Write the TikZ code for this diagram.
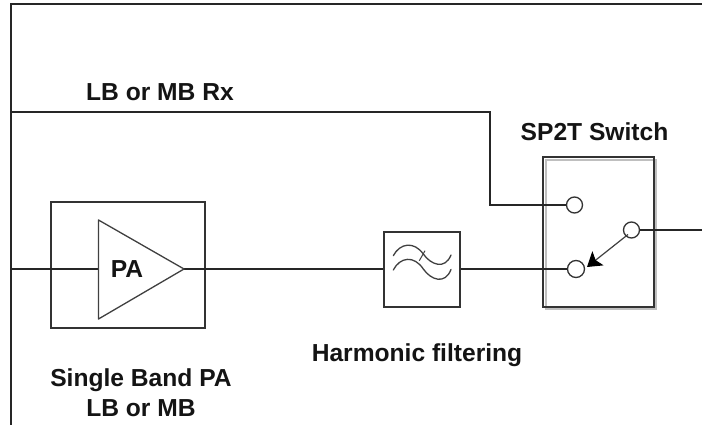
\documentclass[tikz,border=0pt]{standalone}
\usepackage{fontspec}
\setmainfont{Liberation Sans}
\usetikzlibrary{arrows.meta,calc}
\tikzset{
  wire/.style={draw=black!85,line width=1.4pt},
  boxn/.style={draw=black!80,line width=1.2pt,inner sep=0pt,minimum width=#1},
  port/.style={circle,draw=black!80,line width=1.3pt,fill=white,inner sep=0pt,minimum size=16pt},
  lbl/.style={font=\bfseries\fontsize{24.6pt}{30pt}\selectfont,text=black!92,inner sep=0pt,align=center},
}
\begin{document}
\begin{tikzpicture}[x=1pt,y=-1pt]
\useasboundingbox (0,0) rectangle (702,425);
\fill[white] (0,0) rectangle (702,425);
% outer frame and coordinates
\coordinate (tr) at (702,4);
\coordinate (tl) at (11,4);
\coordinate (bl) at (11,425);
\coordinate (rxl) at (11,112);
\coordinate (rxc) at (490,112);
\coordinate (inl) at (11,269);
\coordinate (outr) at (702,230);
\draw[wire] (tr) -- (tl) -- (bl);
% PA box
\node[boxn=154pt,minimum height=126pt] (pabox) at (128,265) {};
% switch box
\draw[black!25,line width=1.3pt] (546,160) rectangle (656,309);
\node[boxn=111pt,minimum height=150pt] (sw) at (598.5,232) {};
% filter
\node[boxn=76pt,minimum height=75pt] (fil) at (422,269.5) {};
% ports
\node[port] (p1) at (574.5,205) {};
\node[port,minimum size=17pt] (p2) at (576,269) {};
\node[port] (p3) at (631.5,230) {};
% triangle
\coordinate (ta) at (98.5,220);
\coordinate (tb) at (98.5,319);
\coordinate (tc) at (184,269);
\coordinate (tin) at (98.5,269);
% wires
\draw[wire] (rxl) -- (rxc) |- (p1.west);
\draw[wire] (inl) -- (tin);
\draw[wire] (tc) -- (fil.west |- tc);
\draw[wire] (fil.east |- tc) -- (p2.west);
\draw[wire] (p3.east) -- (outr);
\draw[draw=black!75,line width=1.3pt,line join=round] (ta) -- (tc) -- (tb) -- cycle;
\node[lbl] (palbl) at (127,269) {PA};
% switch arm
\coordinate (armstart) at (628,234.5);
\coordinate (armend) at (587,267);
\draw[draw=black!75,line width=1.2pt,-{Stealth[length=14pt,width=18pt,inset=3pt,fill=black,color=black]}] (armstart) -- (armend);
% filter waves
\draw[black!75,line width=1.3pt,line cap=round]
  (393.3,255.7) .. controls (400,243) and (414,241) .. (423.3,254)
  .. controls (431,265) and (445,270) .. (451,255);
\draw[black!75,line width=1.3pt,line cap=round]
  (393.3,270) .. controls (400,257) and (414,255) .. (423.3,269)
  .. controls (431,280) and (445,285) .. (451,269.5);
\draw[black!75,line width=1pt] (419.3,260.7) -- (425,250.7);
% labels
\node[lbl] (rxlbl) at (160,92) {LB or MB Rx};
\node[lbl] (swlbl) at (594.5,132) {SP2T Switch};
\node[lbl] (hflbl) at (417,355) {Harmonic filtering};
\node[lbl] (splbl) at (141,393) {Single Band PA\\LB or MB};
\end{tikzpicture}
\end{document}
